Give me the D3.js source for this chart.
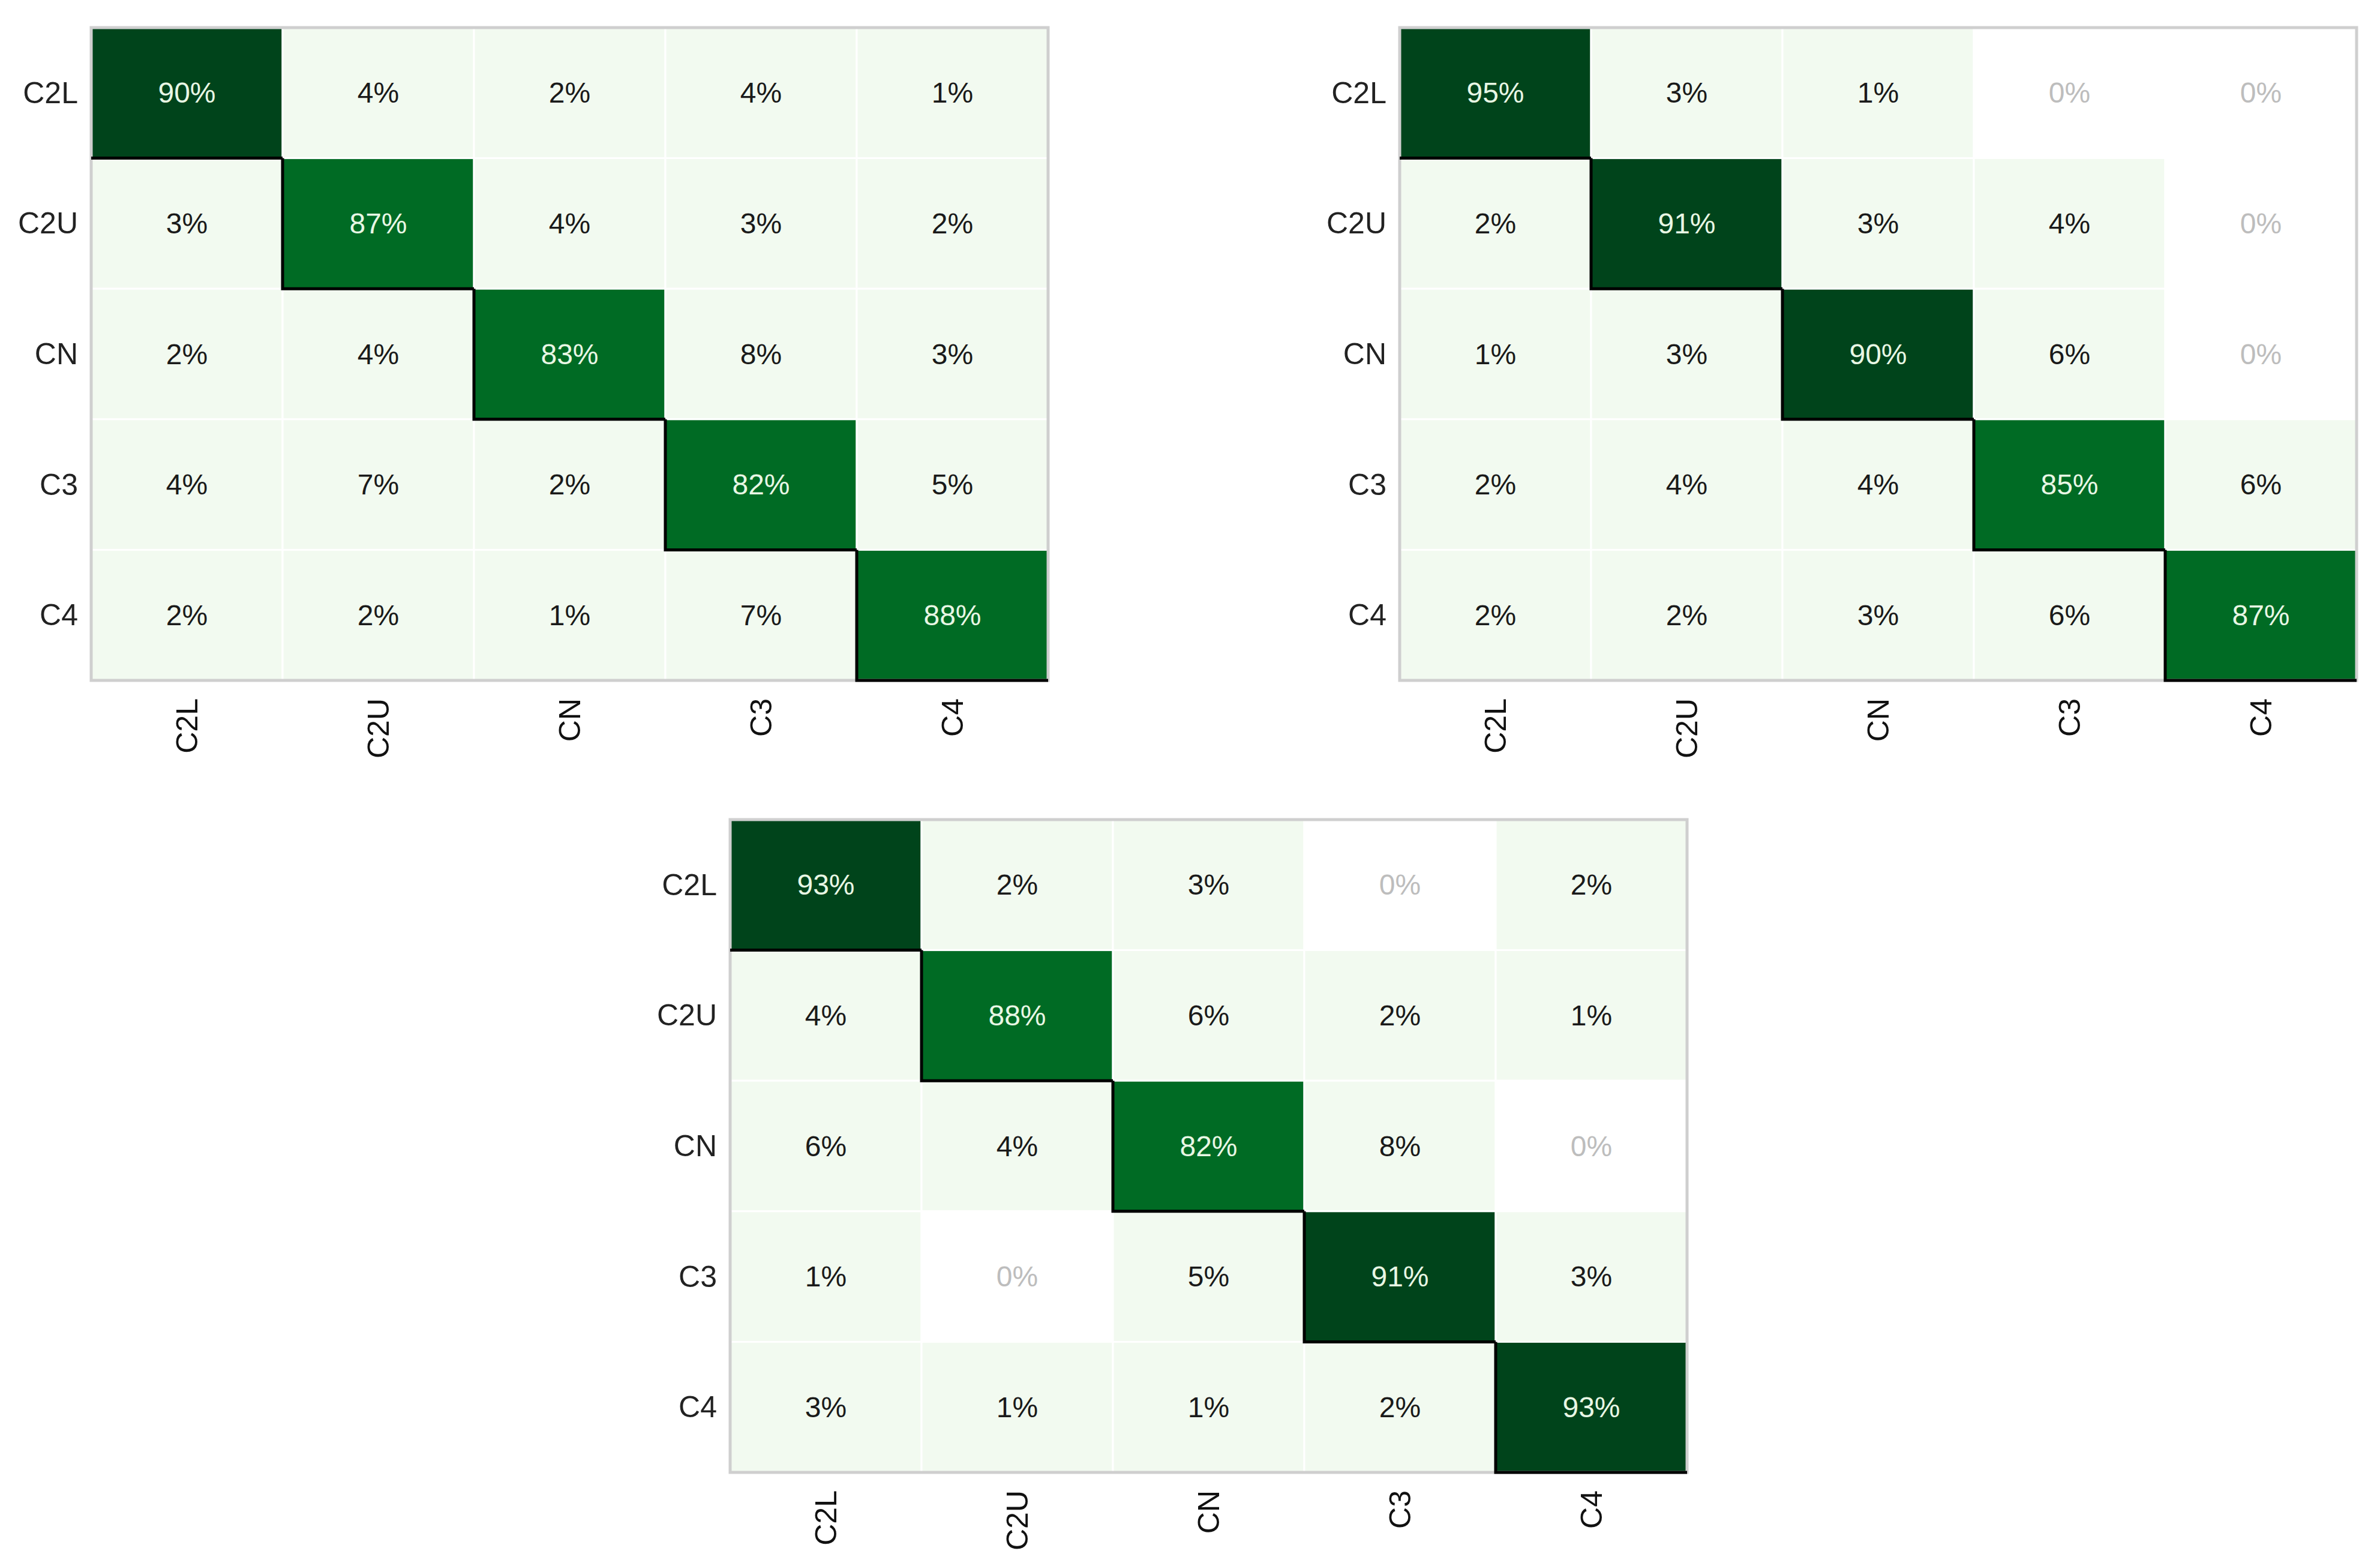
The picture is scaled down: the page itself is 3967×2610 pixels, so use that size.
<!DOCTYPE html>
<html>
<head>
<meta charset="utf-8">
<script src="https://cdn.jsdelivr.net/npm/d3@7"></script>
<style>
  body { margin: 0; background: #fff; }
  text { font-family: "Liberation Sans", Arial, sans-serif; }
</style>
</head>
<body>
<svg id="chart" width="3967" height="2610"></svg>
<script>
// class names, rows = true class, cols = predicted
const classes = ["C2L", "C2U", "CN", "C3", "C4"];

const matrixA = [
  [90, 4, 2, 4, 1],
  [3, 87, 4, 3, 2],
  [2, 4, 83, 8, 3],
  [4, 7, 2, 82, 5],
  [2, 2, 1, 7, 88]
];
const matrixB = [
  [95, 3, 1, 0, 0],
  [2, 91, 3, 4, 0],
  [1, 3, 90, 6, 0],
  [2, 4, 4, 85, 6],
  [2, 2, 3, 6, 87]
];
const matrixC = [
  [93, 2, 3, 0, 2],
  [4, 88, 6, 2, 1],
  [6, 4, 82, 8, 0],
  [1, 0, 5, 91, 3],
  [3, 1, 1, 2, 93]
];

const svg = d3.select("#chart");

function fillFor(v) {
  if (v === 0) return "#ffffff";
  if (v < 50) return "#f2faf0";
  if (v >= 90) return "#00441b";
  return "#006b24";
}

function drawMatrix(data, x0, y0) {
  const w = 1595, h = 1088;
  const g = svg.append("g").attr("transform", `translate(${x0},${y0})`);
  const x = d3.scaleBand().domain(classes).range([0, w]);
  const y = d3.scaleBand().domain(classes).range([0, h]);

  const cells = [];
  data.forEach((row, i) => row.forEach((v, j) => cells.push({ r: classes[i], c: classes[j], v, diag: i === j })));

  g.selectAll("rect.cell").data(cells).enter().append("rect")
    .attr("x", d => x(d.c)).attr("y", d => y(d.r))
    .attr("width", x.bandwidth()).attr("height", y.bandwidth())
    .attr("fill", d => fillFor(d.v))
    .attr("stroke", "#ffffff").attr("stroke-width", 3);

  g.append("rect").attr("width", w).attr("height", h)
    .attr("fill", "none").attr("stroke", "#cfcfcf").attr("stroke-width", 5);

  // staircase along the diagonal
  const diag = cells.filter(d => d.diag);
  g.selectAll("path.step").data(diag).enter().append("path")
    .attr("d", (d, i) => {
      const xl = x(d.c), yt = y(d.r), xr = xl + x.bandwidth(), yb = yt + y.bandwidth();
      return i === 0 ? `M${xl},${yb}H${xr}` : `M${xl},${yt}V${yb}H${i === 4 ? xr : xr}`;
    })
    .attr("fill", "none").attr("stroke", "#000").attr("stroke-width", 5)
    .attr("display", (d, i) => i === 4 ? null : null);

  g.selectAll("text.val").data(cells).enter().append("text")
    .attr("x", d => x(d.c) + x.bandwidth() / 2)
    .attr("y", d => y(d.r) + y.bandwidth() / 2)
    .attr("text-anchor", "middle").attr("dominant-baseline", "central")
    .attr("font-size", 48)
    .attr("fill", d => d.v === 0 ? "#bdbdbd" : d.v >= 50 ? "#e8f7e4" : "#1a1a1a")
    .text(d => d.v + "%");

  g.selectAll("text.ylab").data(classes).enter().append("text")
    .attr("x", -22).attr("y", d => y(d) + y.bandwidth() / 2)
    .attr("text-anchor", "end").attr("dominant-baseline", "central")
    .attr("font-size", 50).attr("fill", "#222")
    .text(d => d);

  g.selectAll("text.xlab").data(classes).enter().append("text")
    .attr("transform", d => `translate(${x(d) + x.bandwidth() / 2},${h + 30}) rotate(-90)`)
    .attr("text-anchor", "end").attr("dominant-baseline", "central")
    .attr("font-size", 50).attr("fill", "#111")
    .text(d => d);
}

drawMatrix(matrixA, 152, 46);
drawMatrix(matrixB, 2333, 46);
drawMatrix(matrixC, 1217, 1366);
</script>
</body>
</html>
